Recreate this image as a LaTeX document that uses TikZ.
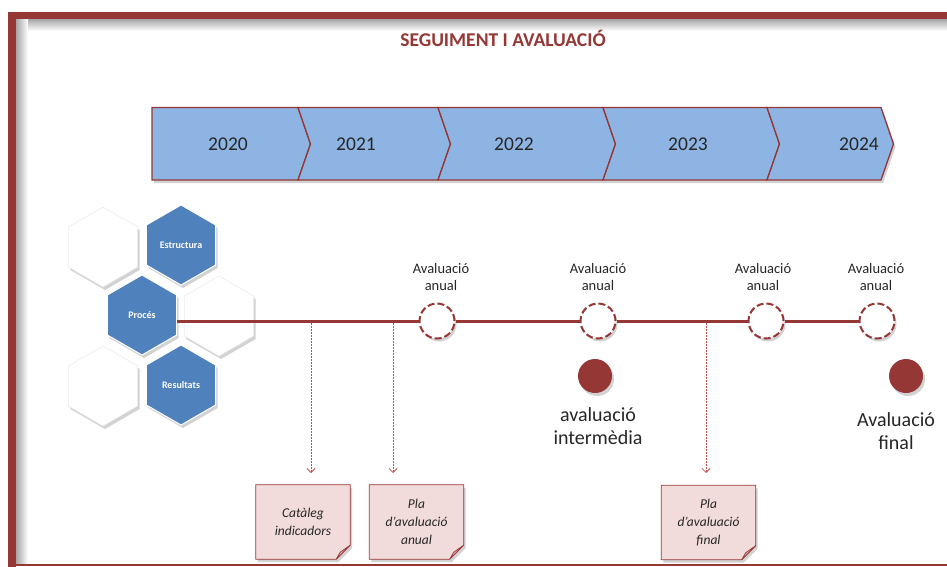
\documentclass[tikz,border=0pt]{standalone}
\usepackage{fontspec}
\setmainfont{Carlito}
\usetikzlibrary{arrows.meta,shadows,calc}
\definecolor{dred}{HTML}{953735}
\definecolor{chev}{HTML}{8EB4E3}
\definecolor{hexb}{HTML}{4F81BD}
\definecolor{notef}{HTML}{F2DCDB}
\definecolor{notefold}{HTML}{DDB3B2}
\definecolor{arr}{HTML}{C0504D}
\newcommand\hexat[3]{\path[#1] (#2,#3) +(90:40) -- +(150:40) -- +(210:40) -- +(270:40) -- +(330:40) -- +(30:40) -- cycle;}
\newcommand\chevseg[3]{% left x, right x, notch depth on left
  \path[chevbox] (#1,107.5) -- (#2,107.5) -- (#2+12.5,144) -- (#2,180) -- (#1,180) -- (#1+#3,144) -- cycle;}
\newcommand\noteoutline[1]{%
  \path[notepath] (#1.north west) -- (#1.north east) -- ([yshift=14pt]#1.south east) -- ([xshift=-14pt]#1.south east) -- (#1.south west) -- cycle;
  \path[fill=notefold,draw=dred,line width=0.7pt,line join=round] ([xshift=-14pt]#1.south east) -- ([yshift=14pt]#1.south east) -- ($(#1.south east)+(-10,-7)$) -- cycle;}
\begin{document}
\begin{tikzpicture}[x=1pt,y=-1pt,
 shad/.style={drop shadow={shadow xshift=2pt,shadow yshift=-3pt,opacity=0.25,fill=black!70}},
 chevbox/.style={fill=chev,draw=dred,line width=1.3pt,line join=miter,shad},
 yr/.style={font=\fontsize{19.5}{22}\selectfont,text=black!85},
 hexblue/.style={fill=hexb,draw=white,line width=1pt,shad},
 hexwhite/.style={fill=white,draw=black!8,line width=0.6pt,shad},
 hextxt/.style={font=\bfseries\fontsize{10}{12}\selectfont,text=white},
 ring/.style={circle,minimum size=35pt,inner sep=0pt,fill=white,draw=dred,line width=2pt,dash pattern=on 7pt off 3pt,shad},
 dot/.style={circle,minimum size=34pt,inner sep=0pt,fill=dred,shad},
 smalllab/.style={align=center,font=\fontsize{14.5}{17}\selectfont,text=black!85},
 biglab/.style={align=center,font=\fontsize{20}{23}\selectfont,text=black!85},
 notebox/.style={minimum width=94pt,minimum height=74pt,inner sep=0pt,align=center,font=\itshape\fontsize{13.5}{18}\selectfont,text=black!85},
 notepath/.style={fill=notef,draw=dred,line width=0.8pt,shad},
 darr/.style={draw=arr,line width=0.7pt,dash pattern=on 2pt off 1pt,-{Straight Barb[length=4pt,width=8pt,line width=0.8pt]}},
 tline/.style={draw=dred,line width=3pt},
]
\useasboundingbox (0,0) rectangle (947,567);
% frame
\shade[top color=black!35,bottom color=white] (16,19) rectangle (947,31);
\shade[left color=black!35,right color=white] (16,19) rectangle (28,564);
\fill[dred] (8,12) rectangle (947,19);
\fill[dred] (8,12) rectangle (16,567);
\fill[dred] (16,563.5) rectangle (947,565.5);
% title
\node[font=\bfseries\fontsize{19.5}{22}\selectfont,text=dred] (title) at (503,38) {SEGUIMENT I AVALUACIÓ};
% chevrons
\chevseg{152}{298}{0}
\chevseg{298}{438}{12.5}
\chevseg{438}{603}{12.5}
\chevseg{603}{767}{12.5}
\chevseg{767}{881}{12.5}
\node[yr] (y2020) at (228,144) {2020};
\node[yr] (y2021) at (356,144) {2021};
\node[yr] (y2022) at (514,144) {2022};
\node[yr] (y2023) at (688,144) {2023};
\node[yr] (y2024) at (859,144) {2024};
% hexagons
\hexat{hexwhite}{103}{247}
\hexat{hexwhite}{219}{316}
\hexat{hexwhite}{103}{386}
\hexat{hexblue}{181}{245}
\hexat{hexblue}{142}{315}
\hexat{hexblue}{181}{385}
\node[hextxt] (estr) at (181,245) {Estructura};
\node[hextxt] (proc) at (142,315) {Procés};
\node[hextxt] (res) at (181,385) {Resultats};
% timeline
\coordinate (lstart) at (177,321);
\node[ring] (r1) at (437,321) {};
\node[ring] (r2) at (598,321) {};
\node[ring] (r3) at (766,321) {};
\node[ring] (r4) at (877,321) {};
\draw[tline] (lstart) -- (r1.west);
\draw[tline] (r1.east) -- (r2.west);
\draw[tline] (r2.east) -- (r3.west);
\draw[tline] (r3.east) -- (r4.west);
\node[smalllab] (l1) at (441,277) {Avaluació\\anual};
\node[smalllab] (l2) at (598,277) {Avaluació\\anual};
\node[smalllab] (l3) at (763,277) {Avaluació\\anual};
\node[smalllab] (l4) at (876,277) {Avaluació\\anual};
\node[dot] (d1) at (595,376) {};
\node[dot] (d2) at (906,376) {};
\node[biglab] (b1) at (598,426) {avaluació\\intermèdia};
\node[biglab] (b2) at (896,431) {Avaluació\\final};
% notes
\node[notebox] (n1) at (303,522) {};
\node[notebox] (n2) at (416.5,522) {};
\node[notebox] (n3) at (708.5,522.5) {};
\noteoutline{n1}
\noteoutline{n2}
\noteoutline{n3}
\node[notebox] at (n1) {Catàleg\\indicadors};
\node[notebox] at (n2) {Pla\\d’avaluació\\anual};
\node[notebox] at (n3) {Pla\\d’avaluació\\final};
% dashed arrows
\coordinate (a1s) at (311,322.5);
\coordinate (a1e) at (311,473);
\coordinate (a2s) at (393,322.5);
\coordinate (a2e) at (393,473);
\coordinate (a3s) at (706,322.5);
\coordinate (a3e) at (706,473);
\draw[darr] (a1s) -- (a1e);
\draw[darr] (a2s) -- (a2e);
\draw[darr] (a3s) -- (a3e);
\end{tikzpicture}
\end{document}
